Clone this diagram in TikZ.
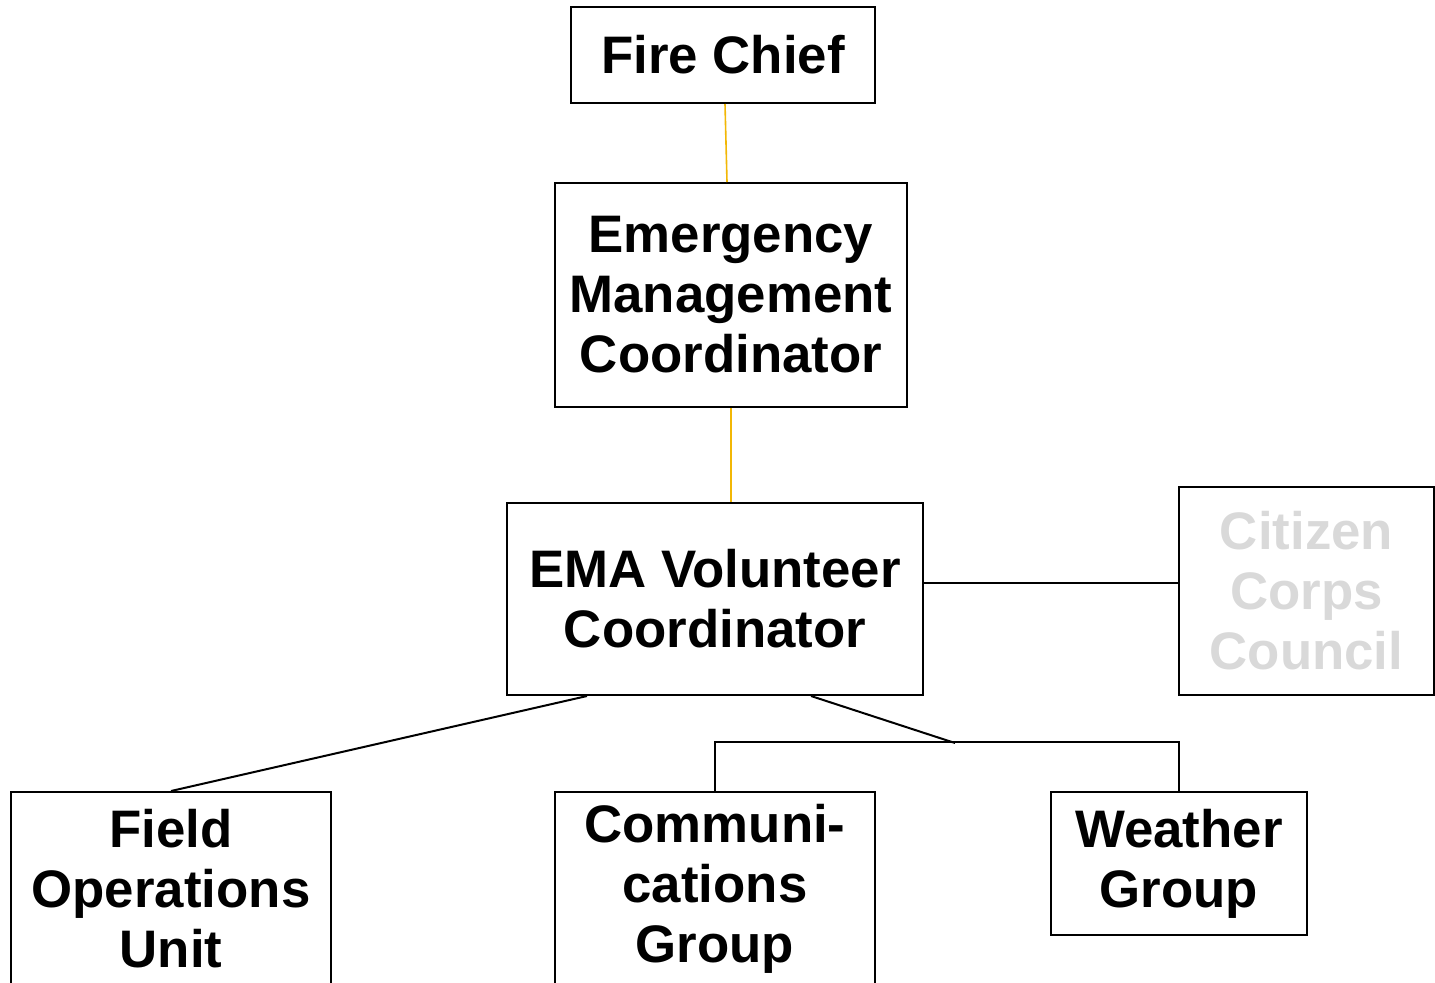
\documentclass[tikz,border=0pt]{standalone}
\usepackage{fontspec}
\setmainfont{Liberation Sans}
\usetikzlibrary{calc}
\definecolor{linkgold}{HTML}{F2B705}
\definecolor{faded}{HTML}{D9D9D9}

\begin{document}
\begin{tikzpicture}[x=0.5pt,y=-0.5pt,
    unit/.style={draw,line width=1pt,align=center,inner sep=0pt,
        font=\fontsize{26.4}{30}\selectfont\bfseries},
    link/.style={line width=1pt},
    chain/.style={linkgold,line width=0.8pt}]
    \useasboundingbox (0,0) rectangle (1435,982);
    % boxes
    \node[unit,minimum width=152pt,minimum height=48pt] (chief) at (723,55) {Fire Chief};
    \node[unit,minimum width=176pt,minimum height=112pt] (emc) at (731,295) {Emergency\\Management\\Coordinator};
    \node[unit,minimum width=208pt,minimum height=96pt] (ema) at (715,599) {EMA Volunteer\\Coordinator};
    \node[unit,text=faded,minimum width=127.5pt,minimum height=104pt] (ccc) at (1306.5,591) {Citizen\\Corps\\Council};
    \node[unit,minimum width=160pt,minimum height=97pt] (field) at (171,889) {Field\\Operations\\Unit};
    \node[unit,minimum width=160pt,minimum height=97pt] (comm) at (715,889) {Communi-\\cations\\Group};
    \node[unit,minimum width=128pt,minimum height=71.5pt] (weather) at (1179,863.5) {Weather\\Group};
    \coordinate (split) at (955,743);
    % lines
    \draw[chain] ($(chief.south)+(2,0)$) -- ($(emc.north)+(-4,0)$);
    \draw[chain] (emc.south) -- (emc.south |- ema.north);
    \draw[link] ($(ema.east)+(0,-16)$) coordinate (tap) -- (tap -| ccc.west);
    \draw[link] ($(ema.south)+(-128,0)$) -- (field.north);
    \draw[link] ($(ema.south)+(96,0)$) -- (split);
    \draw[link] (comm.north) -- ++(0,-49) -| (weather.north);
\end{tikzpicture}
\end{document}
